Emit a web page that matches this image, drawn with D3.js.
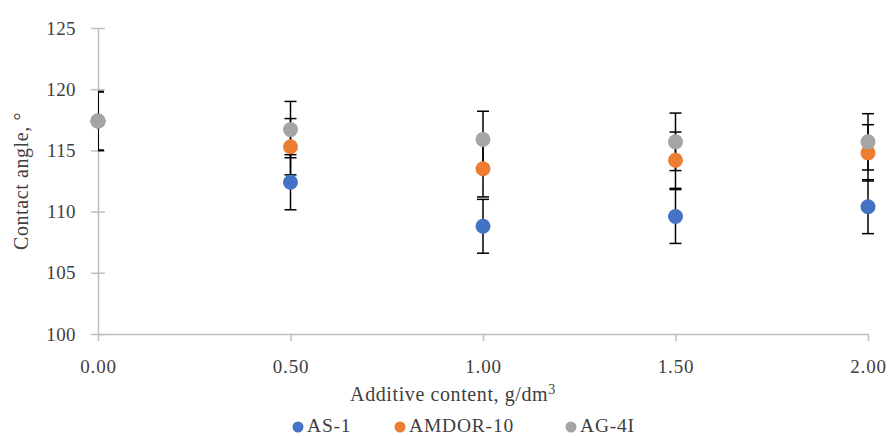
<!DOCTYPE html>
<html>
<head>
<meta charset="utf-8">
<script src="https://cdn.jsdelivr.net/npm/d3@7"></script>
<style>
  body { margin: 0; background: #fff; }
  text { font-family: "Liberation Serif", "Times New Roman", serif; fill: #404040; }
</style>
</head>
<body>
<div id="chart"></div>
<script>
// Data
const xValues = [0, 0.5, 1.0, 1.5, 2.0];
const seriesNames = ['AS-1', 'AMDOR-10', 'AG-4I'];
const as1Values = [117.4, 112.4, 108.8, 109.6, 110.4];
const as1Errors = [2.4, 2.25, 2.2, 2.2, 2.2];
const amdorValues = [117.4, 115.3, 113.5, 114.2, 114.8];
const amdorErrors = [2.4, 2.3, 2.3, 2.3, 2.3];
const ag4iValues = [117.4, 116.7, 115.9, 115.7, 115.7];
const ag4iErrors = [2.4, 2.3, 2.3, 2.35, 2.3];
const yTicks = [100, 105, 110, 115, 120, 125];
const xTicks = [0, 0.5, 1.0, 1.5, 2.0];
const seriesColors = ['#4472C4', '#ED7D31', '#A5A5A5'];

const W = 889, H = 436;
const margin = { top: 28, right: 21, bottom: 102, left: 98 };
const width = W - margin.left - margin.right;
const height = H - margin.top - margin.bottom;

const svg = d3.select('#chart').append('svg')
  .attr('width', W)
  .attr('height', H);

const g = svg.append('g')
  .attr('transform', `translate(${margin.left},${margin.top})`);

const xScale = d3.scaleLinear().domain([0, 2]).range([0, width]);
const yScale = d3.scaleLinear().domain([100, 125]).range([height, 0]);

const axisColor = '#bfbfbf';
const tickFont = '19px';

// y axis with cross ticks
const yAxis = g.append('g').call(d3.axisLeft(yScale).tickValues(yTicks).tickSizeInner(7).tickSizeOuter(0).tickPadding(15));
yAxis.select('.domain').attr('stroke', axisColor).attr('stroke-width', 1.5);
yAxis.selectAll('.tick line').attr('stroke', axisColor).attr('stroke-width', 1.5).attr('x2', 7).attr('x1', -7);
yAxis.selectAll('.tick text').style('font-size', tickFont).attr('fill', '#404040')
  .style('font-family', '"Liberation Serif", serif').style('letter-spacing', '0.4px');

// x axis
const xAxis = g.append('g')
  .attr('transform', `translate(0,${height})`)
  .call(d3.axisBottom(xScale).tickValues(xTicks).tickFormat(d3.format('.2f')).tickSizeInner(7).tickSizeOuter(0).tickPadding(19));
xAxis.select('.domain').attr('stroke', axisColor).attr('stroke-width', 1.5);
xAxis.selectAll('.tick line').attr('stroke', axisColor).attr('stroke-width', 1.5);
xAxis.selectAll('.tick text').style('font-size', tickFont).attr('fill', '#404040')
  .style('font-family', '"Liberation Serif", serif').style('letter-spacing', '0.8px');

// axis titles
svg.append('text')
  .attr('x', margin.left + width / 2 - 30)
  .attr('y', 401)
  .attr('text-anchor', 'middle')
  .style('font-size', '20px')
  .style('letter-spacing', '0.6px')
  .html('Additive content, g/dm<tspan baseline-shift="super" font-size="14px">3</tspan>');

svg.append('text')
  .attr('transform', `translate(28,${margin.top + height / 2}) rotate(-90)`)
  .attr('text-anchor', 'middle')
  .style('font-size', '20px')
  .style('letter-spacing', '0.6px')
  .text('Contact angle, °');

// clip error bars to plot area
svg.append('defs').append('clipPath').attr('id', 'plot-clip')
  .append('rect').attr('x', 0).attr('y', -5).attr('width', width + 10).attr('height', height + 10);

const series = [
  { name: seriesNames[0], values: as1Values, errors: as1Errors, color: seriesColors[0] },
  { name: seriesNames[1], values: amdorValues, errors: amdorErrors, color: seriesColors[1] },
  { name: seriesNames[2], values: ag4iValues, errors: ag4iErrors, color: seriesColors[2] }
];

const errG = g.append('g').attr('clip-path', 'url(#plot-clip)');
const capW = 6;
series.forEach(s => {
  const pts = xValues.map((x, i) => ({ x, y: s.values[i], e: s.errors[i] }));
  const eg = errG.append('g');
  eg.selectAll('.err-line').data(pts).join('line')
    .attr('x1', d => xScale(d.x)).attr('x2', d => xScale(d.x))
    .attr('y1', d => yScale(d.y + d.e)).attr('y2', d => yScale(d.y - d.e))
    .attr('stroke', '#000').attr('stroke-width', 1.5);
  eg.selectAll('.cap-top').data(pts).join('line')
    .attr('x1', d => xScale(d.x) - capW).attr('x2', d => xScale(d.x) + capW)
    .attr('y1', d => yScale(d.y + d.e)).attr('y2', d => yScale(d.y + d.e))
    .attr('stroke', '#000').attr('stroke-width', 1.5);
  eg.selectAll('.cap-bot').data(pts).join('line')
    .attr('x1', d => xScale(d.x) - capW).attr('x2', d => xScale(d.x) + capW)
    .attr('y1', d => yScale(d.y - d.e)).attr('y2', d => yScale(d.y - d.e))
    .attr('stroke', '#000').attr('stroke-width', 1.5);
});

// points
series.forEach(s => {
  g.append('g').selectAll('circle')
    .data(xValues.map((x, i) => ({ x, y: s.values[i] })))
    .join('circle')
    .attr('cx', d => xScale(d.x))
    .attr('cy', d => yScale(d.y))
    .attr('r', 7.5)
    .attr('fill', s.color);
});

// legend
const legendX = [298, 400, 571];
const legend = svg.append('g');
series.forEach((s, i) => {
  legend.append('circle')
    .attr('cx', legendX[i]).attr('cy', 427).attr('r', 5.5)
    .attr('fill', s.color);
  legend.append('text')
    .attr('x', legendX[i] + 9).attr('y', 432)
    .style('font-size', '19.5px')
    .style('letter-spacing', '0.8px')
    .text(s.name);
});
</script>
</body>
</html>
